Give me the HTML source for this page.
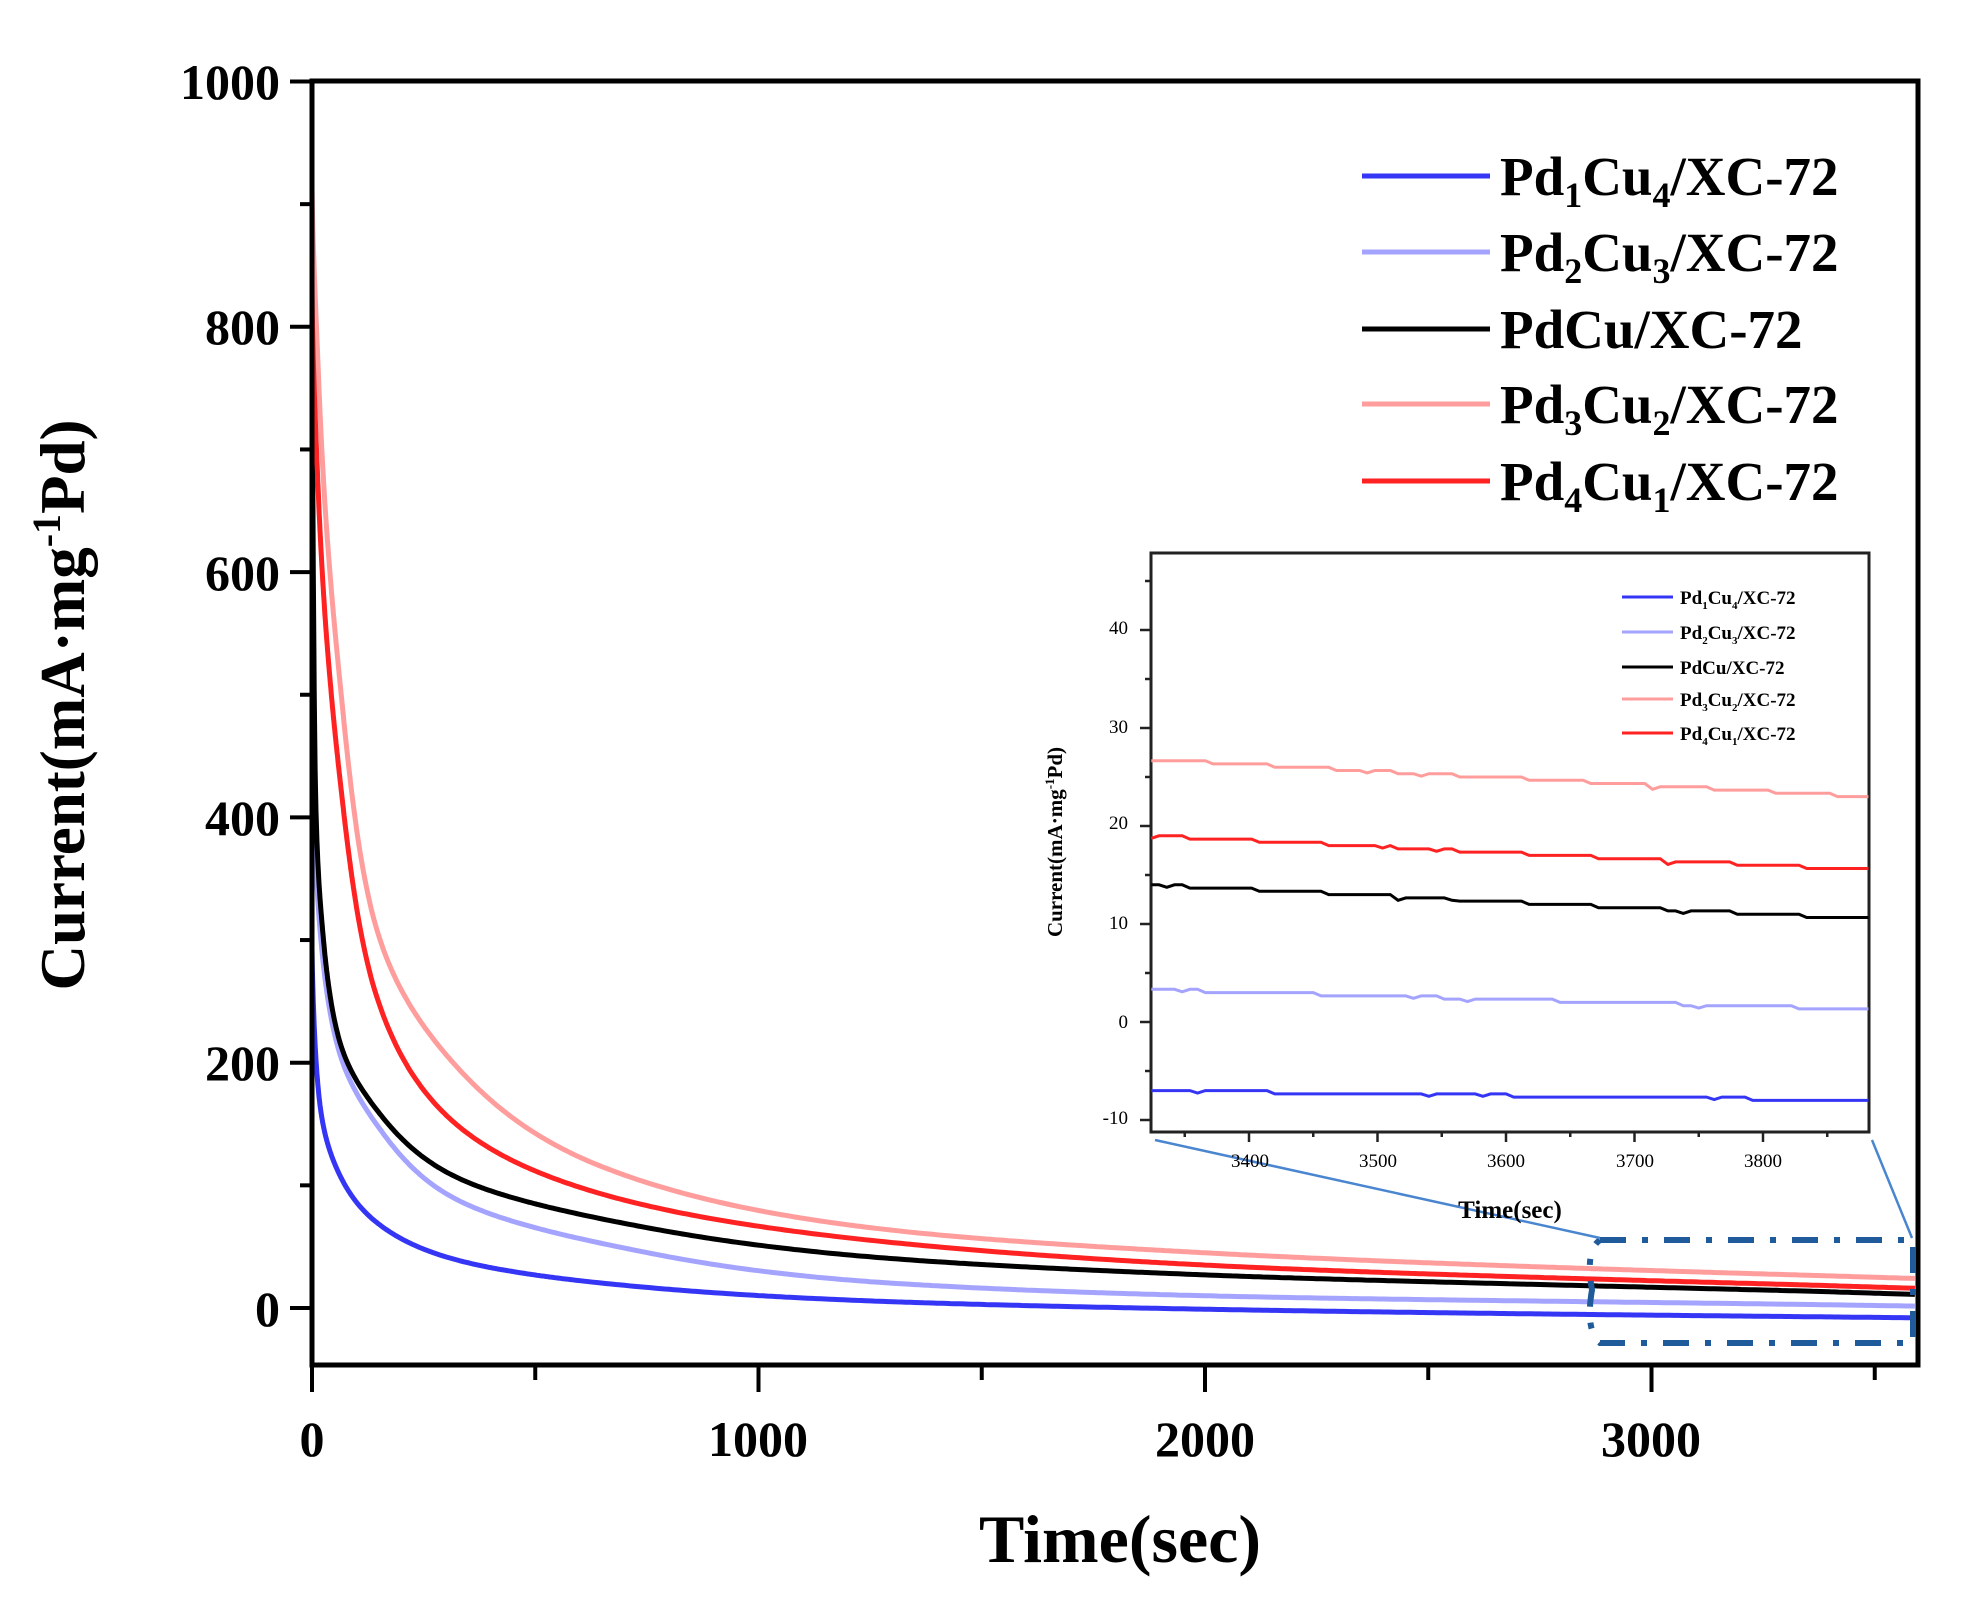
<!DOCTYPE html>
<html><head><meta charset="utf-8"><style>
html,body{margin:0;padding:0;background:#fff;}
svg{display:block;}
text{font-family:"Liberation Serif",serif;font-weight:bold;fill:#000;}
</style></head><body>
<svg id="s" width="1979" height="1606" viewBox="0 0 1979 1606" xmlns="http://www.w3.org/2000/svg">
<rect width="1979" height="1606" fill="#fff"/>
<g id="main"></g>
<rect x="312" y="81" width="1606" height="1284" fill="none" stroke="#000" stroke-width="5"/>
<g id="ticks" stroke="#000" stroke-width="4"></g>
<g font-size="50" text-anchor="end" id="ylab">
<text x="280" y="99">1000</text><text x="280" y="344">800</text><text x="280" y="590">600</text>
<text x="280" y="835">400</text><text x="280" y="1080">200</text><text x="280" y="1326">0</text>
</g>
<g font-size="50" text-anchor="middle">
<text x="312" y="1456">0</text><text x="758" y="1456">1000</text><text x="1205" y="1456">2000</text><text x="1651" y="1456">3000</text>
</g>
<text x="1120" y="1562" font-size="68" text-anchor="middle">Time(sec)</text>
<text transform="translate(84,705) rotate(-90)" font-size="63" text-anchor="middle">Current(mA·mg<tspan font-size="40" dy="-24">-1</tspan><tspan dy="24">Pd)</tspan></text>
<g stroke-width="5">
<line x1="1362" y1="176" x2="1490" y2="176" stroke="#3535f5"/>
<line x1="1362" y1="252" x2="1490" y2="252" stroke="#a4a4ff"/>
<line x1="1362" y1="329" x2="1490" y2="329" stroke="#000"/>
<line x1="1362" y1="404" x2="1490" y2="404" stroke="#ff9d9d"/>
<line x1="1362" y1="481" x2="1490" y2="481" stroke="#ff2222"/>
</g>
<g font-size="55">
<text x="1500" y="195">Pd<tspan font-size="36" dy="12">1</tspan><tspan dy="-12">Cu</tspan><tspan font-size="36" dy="12">4</tspan><tspan dy="-12">/XC-72</tspan></text>
<text x="1500" y="271">Pd<tspan font-size="36" dy="12">2</tspan><tspan dy="-12">Cu</tspan><tspan font-size="36" dy="12">3</tspan><tspan dy="-12">/XC-72</tspan></text>
<text x="1500" y="348">PdCu/XC-72</text>
<text x="1500" y="423">Pd<tspan font-size="36" dy="12">3</tspan><tspan dy="-12">Cu</tspan><tspan font-size="36" dy="12">2</tspan><tspan dy="-12">/XC-72</tspan></text>
<text x="1500" y="500">Pd<tspan font-size="36" dy="12">4</tspan><tspan dy="-12">Cu</tspan><tspan font-size="36" dy="12">1</tspan><tspan dy="-12">/XC-72</tspan></text>
</g>
<path d="M1600,1240 L1913,1240 L1913,1343 L1600,1343 Q1585,1330 1592,1290 Q1585,1250 1600,1240" fill="none" stroke="#1f5b9a" stroke-width="6" stroke-dasharray="26,16,6,16"/>
<line x1="1155" y1="1140" x2="1600" y2="1238" stroke="#4a86d0" stroke-width="2.5"/>
<line x1="1872" y1="1140" x2="1912" y2="1238" stroke="#4a86d0" stroke-width="2.5"/>
<rect x="1151" y="553" width="718" height="579" fill="#fff" stroke="#222" stroke-width="3"/>
<g id="inset"></g>
<g id="iticks" stroke="#222" stroke-width="2.5"></g>
<g font-size="19" text-anchor="end">
<text x="1128" y="634" style="font-weight:normal">40</text><text x="1128" y="733" style="font-weight:normal">30</text>
<text x="1128" y="829" style="font-weight:normal">20</text><text x="1128" y="929" style="font-weight:normal">10</text>
<text x="1128" y="1028" style="font-weight:normal">0</text><text x="1128" y="1124" style="font-weight:normal">-10</text>
</g>
<g font-size="19" text-anchor="middle">
<text x="1250" y="1167" style="font-weight:normal">3400</text><text x="1378" y="1167" style="font-weight:normal">3500</text>
<text x="1506" y="1167" style="font-weight:normal">3600</text><text x="1635" y="1167" style="font-weight:normal">3700</text>
<text x="1763" y="1167" style="font-weight:normal">3800</text>
</g>
<text x="1510" y="1218" font-size="25" text-anchor="middle">Time(sec)</text>
<text transform="translate(1062,842) rotate(-90)" font-size="21" text-anchor="middle">Current(mA·mg<tspan font-size="13" dy="-8">-1</tspan><tspan dy="8">Pd)</tspan></text>
<g stroke-width="3">
<line x1="1622" y1="597" x2="1673" y2="597" stroke="#3535f5"/>
<line x1="1622" y1="632" x2="1673" y2="632" stroke="#a4a4ff"/>
<line x1="1622" y1="667" x2="1673" y2="667" stroke="#000"/>
<line x1="1622" y1="699" x2="1673" y2="699" stroke="#ff9d9d"/>
<line x1="1622" y1="733" x2="1673" y2="733" stroke="#ff2222"/>
</g>
<g font-size="19">
<text x="1680" y="604">Pd<tspan font-size="11" dy="5">1</tspan><tspan dy="-5">Cu</tspan><tspan font-size="11" dy="5">4</tspan><tspan dy="-5">/XC-72</tspan></text>
<text x="1680" y="639">Pd<tspan font-size="11" dy="5">2</tspan><tspan dy="-5">Cu</tspan><tspan font-size="11" dy="5">3</tspan><tspan dy="-5">/XC-72</tspan></text>
<text x="1680" y="674">PdCu/XC-72</text>
<text x="1680" y="706">Pd<tspan font-size="11" dy="5">3</tspan><tspan dy="-5">Cu</tspan><tspan font-size="11" dy="5">2</tspan><tspan dy="-5">/XC-72</tspan></text>
<text x="1680" y="740">Pd<tspan font-size="11" dy="5">4</tspan><tspan dy="-5">Cu</tspan><tspan font-size="11" dy="5">1</tspan><tspan dy="-5">/XC-72</tspan></text>
</g>
</svg>
<script>
(function(){
var NS="http://www.w3.org/2000/svg";
function el(p,n,a){var e=document.createElementNS(NS,n);for(var k in a)e.setAttribute(k,a[k]);p.appendChild(e);return e;}
var X=function(t){return 312+0.4465*t;},Y=function(v){return 1308-1.2265*v;};
var S=[
["#a4a4ff",[[0,537],[5,400],[20,300],[60,210],[144,150],[316,90],[658,52],[1310,20],[2000,10],[3324,3],[3600,1.5]]],
["#3535f5",[[0,293],[5,230],[20,160],[60,110],[144,70],[316,40],[658,20],[1310,5],[2000,-1],[3324,-7],[3600,-8]]],
["#ff9d9d",[[0,913],[10,800],[30,650],[60,520],[144,310],[316,200],[658,114],[1310,63],[2000,45],[3324,27],[3600,24]]],
["#000",[[0,838],[3,600],[8,420],[25,303],[60,220],[144,162],[316,108],[658,72],[1310,40],[2000,27],[3324,14],[3600,11]]],
["#ff2222",[[0,826],[10,700],[30,560],[60,440],[144,255],[316,152],[658,92],[1310,53],[2000,35],[3324,19],[3600,16]]]
];
function pchip(pts){
 var xs=pts.map(function(p){return Math.log(p[0]+5);}),ys=pts.map(function(p){return Math.log(p[1]+20);});
 var n=xs.length,h=[],d=[],m=[];
 for(var i=0;i<n-1;i++){h[i]=xs[i+1]-xs[i];d[i]=(ys[i+1]-ys[i])/h[i];}
 m[0]=d[0];m[n-1]=d[n-2];
 for(i=1;i<n-1;i++){if(d[i-1]*d[i]<=0)m[i]=0;else{var w1=2*h[i]+h[i-1],w2=h[i]+2*h[i-1];m[i]=(w1+w2)/(w1/d[i-1]+w2/d[i]);}}
 return function(t){var x=Math.log(t+5);var k=0;while(k<n-2&&x>xs[k+1])k++;
  var hh=h[k],s=(x-xs[k])/hh,h00=2*s*s*s-3*s*s+1,h10=s*s*s-2*s*s+s,h01=-2*s*s*s+3*s*s,h11=s*s*s-s*s;
  var y=h00*ys[k]+h10*hh*m[k]+h01*ys[k+1]+h11*hh*m[k+1];return Math.exp(y)-20;};
}
var g=document.getElementById("main");
S.forEach(function(s){var f=pchip(s[1]);var d="";for(var t=0;t<=3597;t+=(t<100?1:(t<600?4:10))){d+=(d?"L":"M")+X(t).toFixed(1)+","+Y(f(t)).toFixed(1);}
el(g,"path",{d:d,fill:"none",stroke:s[0],"stroke-width":5,"stroke-linejoin":"round"});});
var tk=document.getElementById("ticks");
for(var v=0;v<=1000;v+=100){var y=Y(v);el(tk,"line",{x1:312,y1:y,x2:v%200==0?290:300,y2:y});}
for(var t=0;t<=3500;t+=500){var x=X(t);el(tk,"line",{x1:x,y1:1365,x2:x,y2:t%1000==0?1392:1380});}
var XI=function(t){return 1249+(t-3400)*1.285;},YI=function(v){return 1022-v*9.8;};
var ins=document.getElementById("inset");
var IS=[["#ff9d9d",26.8,23],["#ff2222",19,15.5],["#000",14,10.5],["#a4a4ff",3.3,1.3],["#3535f5",-7,-8]];
IS.forEach(function(s,k){var d="";for(var t=3324;t<=3882;t+=6){var v=s[1]+(s[2]-s[1])*(t-3324)/558;v=Math.round(v*3)/3;if((t*7+k*13)%97<4)v-=0.25;
d+=(d?"L":"M")+XI(t).toFixed(1)+","+YI(v).toFixed(1);}
el(ins,"path",{d:d,fill:"none",stroke:s[0],"stroke-width":3});});
var it=document.getElementById("iticks");
for(var v=-10;v<=45;v+=5){var y=YI(v);el(it,"line",{x1:1151,y1:y,x2:v%10==0?1140:1145,y2:y});}
for(var t=3350;t<=3850;t+=50){var x=XI(t);el(it,"line",{x1:x,y1:1132,x2:x,y2:t%100==0?1142:1137});}
})();
</script>
</body></html>
